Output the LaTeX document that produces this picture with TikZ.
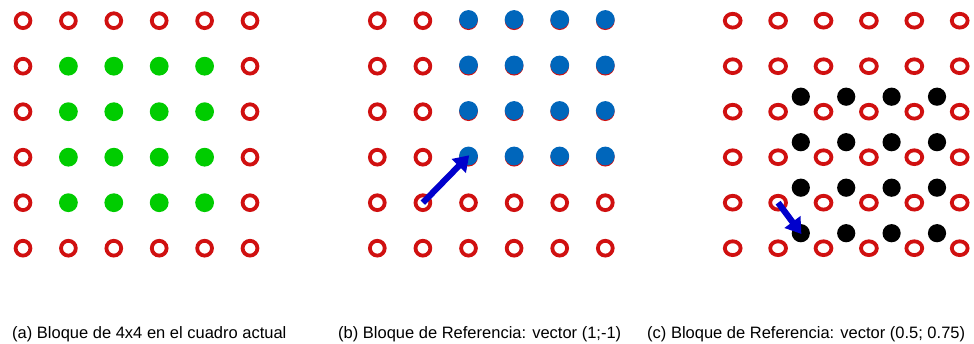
\documentclass[tikz,border=0pt]{standalone}
\usepackage{fontspec}
\setmainfont{Liberation Sans}
\usetikzlibrary{arrows.meta,shapes.geometric}
\definecolor{ringred}{RGB}{208,16,16}
\definecolor{curgreen}{RGB}{0,204,0}
\definecolor{refblue}{RGB}{0,102,187}
\definecolor{vecblue}{RGB}{0,0,204}
\begin{document}
\begin{tikzpicture}[x=1pt,y=-1pt,
  ring/.style={circle,draw=ringred,line width=3.8pt,minimum size=14.8pt,inner sep=0pt},
  flatring/.style={ellipse,draw=ringred,line width=3.8pt,minimum width=15.8pt,minimum height=13.8pt,inner sep=0pt},
  dot/.style={circle,fill=#1,minimum size=18.8pt,inner sep=0pt},
  vec/.style={draw=vecblue,line width=6.2pt,-{Triangle[length=15pt,width=19pt]},shorten >=-1pt},
  caption/.style={anchor=base west,inner sep=0pt,font=\fontsize{16.5}{19}\selectfont}]
% page frame
\fill[white] (0,0) rectangle (974,344);
\useasboundingbox (0,0) rectangle (974,344);

% (a) current frame: ring border, 4x4 block filled in green
\foreach \i in {1,...,6}
  \foreach \j in {1,...,6}{
    \pgfmathsetmacro{\px}{23+45.4*(\i-1)}
    \pgfmathsetmacro{\py}{20.7+45.5*(\j-1)}
    \pgfmathtruncatemacro{\inner}{(\i>1)&&(\i<6)&&(\j>1)&&(\j<6)}
    \ifnum\inner=1
      \node[dot=curgreen] (a-\i-\j) at (\px,\py) {};
    \else
      \node[ring] (a-\i-\j) at (\px,\py) {};
    \fi
  }

% (b) reference frame, block displaced by (1;-1)
\foreach \i in {1,...,6}
  \foreach \j in {1,...,6}{
    \pgfmathsetmacro{\px}{377.3+45.6*(\i-1)}
    \pgfmathsetmacro{\py}{20.7+45.5*(\j-1)}
    \node[ring] (b-\i-\j) at (\px,\py) {};
  }
\foreach \i in {3,...,6}
  \foreach \j in {1,...,4}
    \node[dot=refblue] (bd-\i-\j) at ([yshift=1.2pt]b-\i-\j.center) {};
\draw[vec] (b-2-5.center) -- (bd-3-4.center);

% (c) reference frame, sub-pixel displacement (0.5; 0.75)
\foreach \i in {1,...,6}
  \foreach \j in {1,...,6}{
    \pgfmathsetmacro{\px}{732.7+45.4*(\i-1)}
    \pgfmathsetmacro{\py}{20.7+45.5*(\j-1)}
    \node[flatring] (c-\i-\j) at (\px,\py) {};
  }
\foreach \i in {2,...,5}
  \foreach \j in {2,...,5}
    \node[dot=black,minimum size=18.2pt] (cd-\i-\j) at ([xshift=22.7pt,yshift=-30.5pt]c-\i-\j.center) {};
\draw[vec] (c-2-5.center) -- (cd-2-5.center);

% captions
\node[caption] (capa) at (12,338) {(a) Bloque de 4x4 en el cuadro actual};
\node[caption] (capb) at (338,338) {(b) Bloque de Referencia: vector (1;-1)};
\node[caption] (capc) at (647,338) {(c) Bloque de Referencia: vector (0.5; 0.75)};
\end{tikzpicture}
\end{document}
